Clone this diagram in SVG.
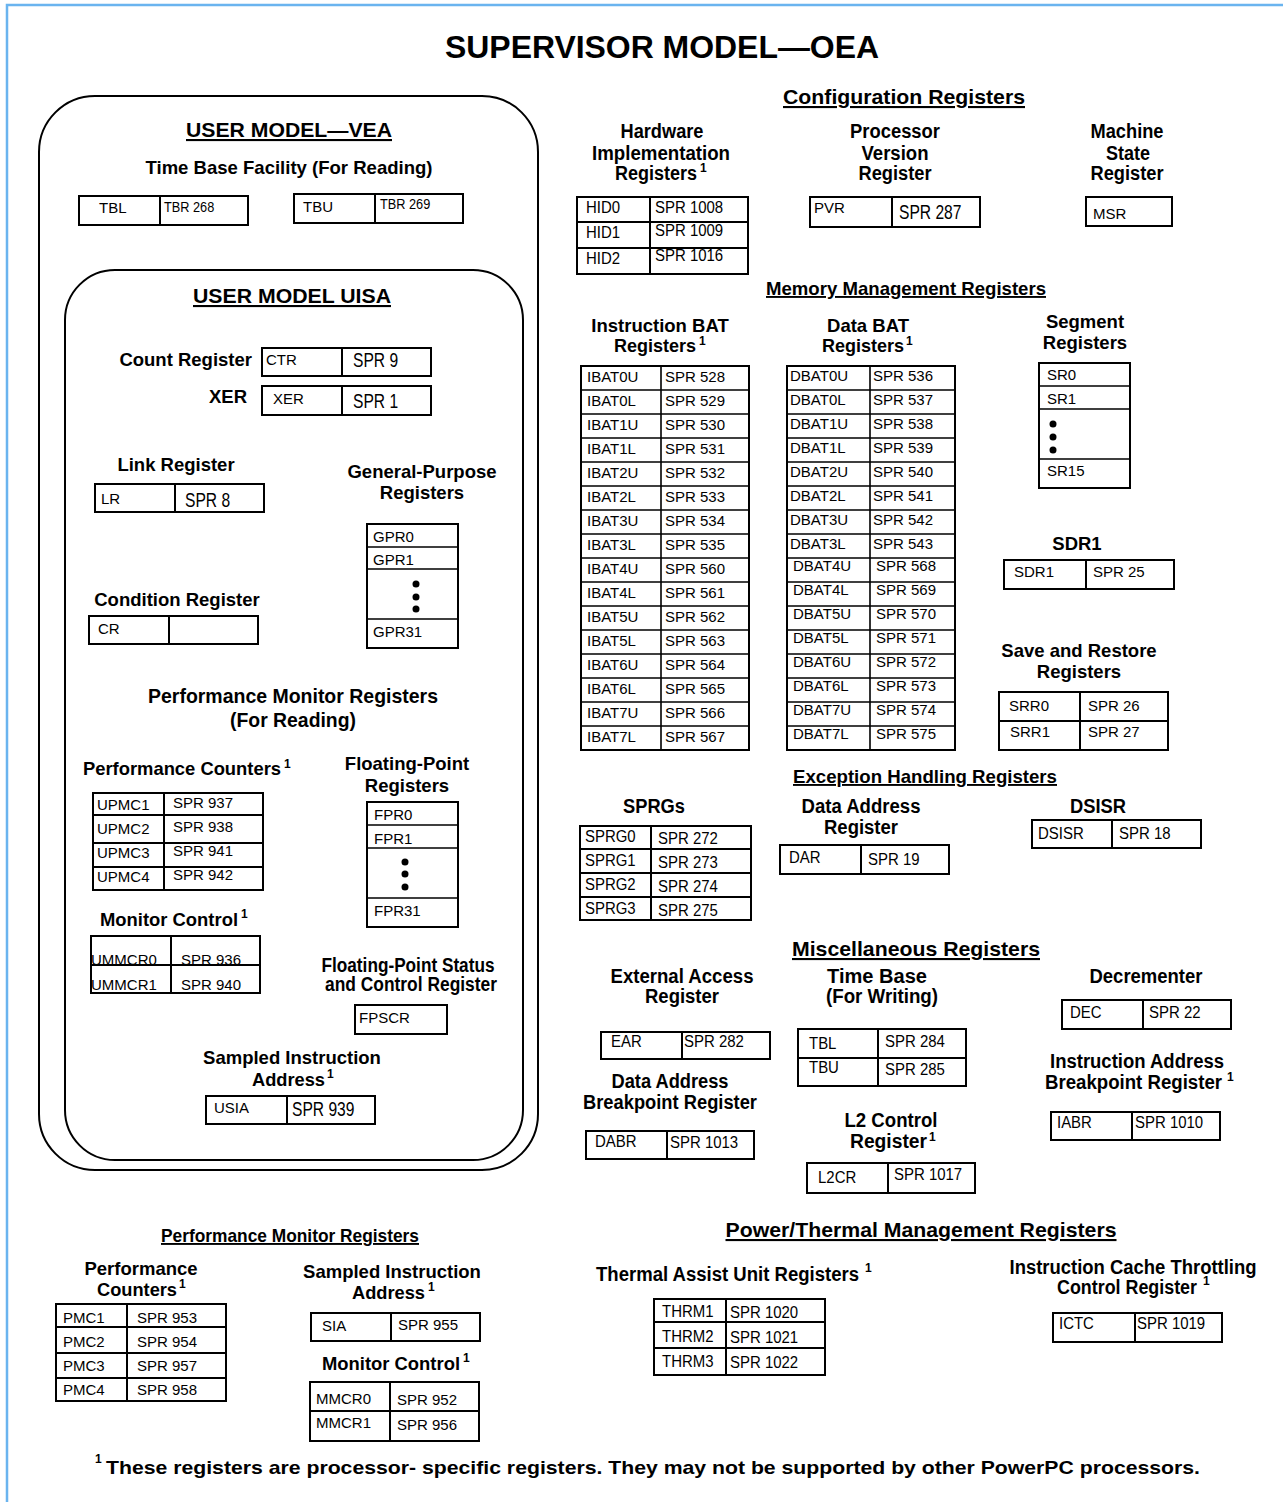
<svg xmlns="http://www.w3.org/2000/svg" width="1283" height="1502" viewBox="0 0 1283 1502">
<style>
text{font-family:"Liberation Sans",Arial,sans-serif;fill:#000}
.b{font-weight:bold}
.lb{font-weight:bold;font-size:18.5px;text-anchor:middle}
.nl{font-weight:bold;font-size:20px;text-anchor:middle}
.hd{font-weight:bold;font-size:21px;text-anchor:middle;text-decoration:underline}
.sup{font-weight:bold;font-size:12px}
.r{font-size:15px}
.rn{font-size:17px}
.big{font-size:20px}
.bx{fill:none;stroke:#000;stroke-width:2}
.ln{fill:none;stroke:#000;stroke-width:2}
.rl{fill:none;stroke:#000;stroke-width:1.6}
</style>
<rect width="1283" height="1502" fill="#fff"/>
<path d="M7 1502V5H1283" fill="none" stroke="#6ab4ef" stroke-width="2.5"/>
<text x="662" y="58" class="b" font-size="31" text-anchor="middle" textLength="434" lengthAdjust="spacingAndGlyphs">SUPERVISOR MODEL—OEA</text>

<g id="user-model-vea">
<rect x="39" y="96" width="499" height="1074" rx="56" class="bx"/>
<text x="289" y="137" class="b" font-size="21" text-anchor="middle" text-decoration="underline" textLength="206" lengthAdjust="spacingAndGlyphs">USER MODEL—VEA</text>
<text x="289" y="174" class="lb" textLength="287" lengthAdjust="spacingAndGlyphs">Time Base Facility (For Reading)</text>
</g>
<g id="tbl-read">
<rect x="79" y="196" width="169" height="29" class="bx"/><path d="M160 196V225" class="ln"/>
<text x="99" y="213" class="r" font-size="16">TBL</text><text transform="translate(164,212) scale(.85,1)" font-size="15">TBR 268</text>
</g>
<g id="tbu-read">
<rect x="294" y="194" width="169" height="29" class="bx"/><path d="M375 194V223" class="ln"/>
<text x="303" y="212" class="r" font-size="16">TBU</text><text transform="translate(380,209) scale(.85,1)" font-size="15">TBR 269</text>
</g>

<g id="user-model-uisa">
<rect x="65" y="270" width="458" height="890" rx="50" class="bx"/>
<text x="292" y="303" class="b" font-size="21" text-anchor="middle" text-decoration="underline" textLength="198" lengthAdjust="spacingAndGlyphs">USER MODEL UISA</text>
</g>
<g id="ctr">
<text x="252" y="366" class="b" font-size="18.5" text-anchor="end">Count Register</text>
<rect x="262" y="348" width="169" height="28" class="bx"/><path d="M342 348V376" class="ln"/>
<text x="266" y="365" class="r">CTR</text><text transform="translate(353,367) scale(.78,1)" class="big">SPR 9</text>
</g>
<g id="xer">
<text x="247" y="403" class="b" font-size="18.5" text-anchor="end">XER</text>
<rect x="262" y="386" width="169" height="29" class="bx"/><path d="M342 386V415" class="ln"/>
<text x="273" y="404" class="r">XER</text><text transform="translate(353,408) scale(.78,1)" class="big">SPR 1</text>
</g>
<g id="lr">
<text x="176" y="471" class="lb">Link Register</text>
<rect x="95" y="484" width="169" height="28" class="bx"/><path d="M175 484V512" class="ln"/>
<text x="101" y="504" class="r">LR</text><text transform="translate(185,507) scale(.78,1)" class="big">SPR 8</text>
</g>
<g id="gpr">
<text x="422" y="478" class="lb">General-Purpose</text>
<text x="422" y="499" class="lb">Registers</text>
<rect x="367" y="524" width="91" height="124" class="bx"/>
<path d="M367 547H458M367 569H458M367 619H458" class="rl"/>
<text x="373" y="542" class="r">GPR0</text><text x="373" y="565" class="r">GPR1</text>
<circle cx="416" cy="584" r="3.5"/><circle cx="416" cy="597" r="3.5"/><circle cx="416" cy="609" r="3.5"/>
<text x="373" y="637" class="r">GPR31</text>
</g>
<g id="cr">
<text x="177" y="606" class="lb">Condition Register</text>
<rect x="89" y="616" width="169" height="28" class="bx"/><path d="M169 616V644" class="ln"/>
<text x="98" y="634" class="r">CR</text>
</g>
<g id="pm-read">
<text x="293" y="703" class="hd" style="text-decoration:none" textLength="290" lengthAdjust="spacingAndGlyphs">Performance Monitor Registers</text>
<text x="293" y="727" class="hd" style="text-decoration:none" textLength="126" lengthAdjust="spacingAndGlyphs">(For Reading)</text>
</g>
<g id="upmc">
<text x="83" y="775" class="b" font-size="18.5" textLength="198" lengthAdjust="spacingAndGlyphs">Performance Counters</text><text x="284" y="768" class="sup">1</text>
<rect x="93" y="793" width="170" height="97" class="bx"/>
<path d="M93 815H263M93 843H263M93 867H263M164 793V890" class="ln"/>
<text x="97" y="810" class="r">UPMC1</text><text x="173" y="808" class="r">SPR 937</text>
<text x="97" y="834" class="r">UPMC2</text><text x="173" y="832" class="r">SPR 938</text>
<text x="97" y="858" class="r">UPMC3</text><text x="173" y="856" class="r">SPR 941</text>
<text x="97" y="882" class="r">UPMC4</text><text x="173" y="880" class="r">SPR 942</text>
</g>
<g id="ummcr">
<text x="100" y="926" class="b" font-size="18.5" textLength="138" lengthAdjust="spacingAndGlyphs">Monitor Control</text><text x="241" y="918" class="sup">1</text>
<rect x="91" y="936" width="169" height="57" class="bx"/>
<path d="M91 965H260M171 936V993" class="ln"/>
<text x="91" y="965" class="r">UMMCR0</text><text x="181" y="965" class="r">SPR 936</text>
<text x="91" y="990" class="r">UMMCR1</text><text x="181" y="990" class="r">SPR 940</text>
</g>
<g id="fpr">
<text x="407" y="770" class="lb">Floating-Point</text>
<text x="407" y="792" class="lb">Registers</text>
<rect x="367" y="802" width="91" height="125" class="bx"/>
<path d="M367 825H458M367 848H458M367 898H458" class="rl"/>
<text x="374" y="820" class="r">FPR0</text><text x="374" y="844" class="r">FPR1</text>
<circle cx="405" cy="862" r="3.5"/><circle cx="405" cy="874" r="3.5"/><circle cx="405" cy="887" r="3.5"/>
<text x="374" y="916" class="r">FPR31</text>
</g>
<g id="fpscr">
<text x="408" y="972" class="nl" textLength="173" lengthAdjust="spacingAndGlyphs">Floating-Point Status</text>
<text x="411" y="991" class="nl" textLength="172" lengthAdjust="spacingAndGlyphs">and Control Register</text>
<rect x="355" y="1005" width="92" height="29" class="bx"/>
<text x="359" y="1023" class="r">FPSCR</text>
</g>
<g id="usia">
<text x="292" y="1064" class="lb">Sampled Instruction</text>
<text x="252" y="1086" class="b" font-size="18.5" textLength="73" lengthAdjust="spacingAndGlyphs">Address</text><text x="327" y="1078" class="sup">1</text>
<rect x="206" y="1096" width="169" height="28" class="bx"/><path d="M287 1096V1124" class="ln"/>
<text x="214" y="1113" class="r">USIA</text><text transform="translate(292,1116) scale(.78,1)" class="big">SPR 939</text>
</g>

<g id="config-heading">
<text x="904" y="104" class="hd" textLength="242" lengthAdjust="spacingAndGlyphs">Configuration Registers</text>
</g>
<g id="hid">
<text x="662" y="138" class="nl" textLength="83" lengthAdjust="spacingAndGlyphs">Hardware</text>
<text x="661" y="160" class="nl" textLength="138" lengthAdjust="spacingAndGlyphs">Implementation</text>
<text x="615" y="180" class="nl" style="text-anchor:start" textLength="82" lengthAdjust="spacingAndGlyphs">Registers</text><text x="700" y="172" class="sup">1</text>
<rect x="577" y="197" width="171" height="77" class="bx"/>
<path d="M577 222H748M577 248H748M650 197V274" class="ln"/>
<text transform="translate(586,213) scale(.88,1)" class="rn">HID0</text><text transform="translate(655,213) scale(.88,1)" class="rn">SPR 1008</text>
<text transform="translate(586,238) scale(.88,1)" class="rn">HID1</text><text transform="translate(655,236) scale(.88,1)" class="rn">SPR 1009</text>
<text transform="translate(586,264) scale(.88,1)" class="rn">HID2</text><text transform="translate(655,261) scale(.88,1)" class="rn">SPR 1016</text>
</g>
<g id="pvr">
<text x="895" y="138" class="nl" textLength="90" lengthAdjust="spacingAndGlyphs">Processor</text>
<text x="895" y="160" class="nl" textLength="67" lengthAdjust="spacingAndGlyphs">Version</text>
<text x="895" y="180" class="nl" textLength="73" lengthAdjust="spacingAndGlyphs">Register</text>
<rect x="810" y="197" width="170" height="30" class="bx"/><path d="M892 197V227" class="ln"/>
<text x="814" y="213" class="r" font-size="14">PVR</text><text transform="translate(899,219) scale(.78,1)" class="big" font-size="21">SPR 287</text>
</g>
<g id="msr">
<text x="1127" y="138" class="nl" textLength="73" lengthAdjust="spacingAndGlyphs">Machine</text>
<text x="1128" y="160" class="nl" textLength="44" lengthAdjust="spacingAndGlyphs">State</text>
<text x="1127" y="180" class="nl" textLength="73" lengthAdjust="spacingAndGlyphs">Register</text>
<rect x="1086" y="197" width="86" height="29" class="bx"/>
<text x="1093" y="219" class="r">MSR</text>
</g>

<g id="mm-heading">
<text x="906" y="295" class="hd" style="font-size:19px" textLength="280" lengthAdjust="spacingAndGlyphs">Memory Management Registers</text>
</g>
<g id="ibat">
<text x="660" y="332" class="lb">Instruction BAT</text>
<text x="614" y="352" class="b" font-size="18.5" textLength="82" lengthAdjust="spacingAndGlyphs">Registers</text><text x="699" y="345" class="sup">1</text>
<rect x="581" y="366" width="168" height="384" class="bx"/>
<path d="M661 366V750M581 390H749M581 414H749M581 438H749M581 462H749M581 486H749M581 510H749M581 534H749M581 558H749M581 582H749M581 606H749M581 630H749M581 654H749M581 678H749M581 702H749M581 726H749" class="rl"/>
<g class="r">
<text x="587" y="382">IBAT0U</text><text x="665" y="382">SPR 528</text>
<text x="587" y="406">IBAT0L</text><text x="665" y="406">SPR 529</text>
<text x="587" y="430">IBAT1U</text><text x="665" y="430">SPR 530</text>
<text x="587" y="454">IBAT1L</text><text x="665" y="454">SPR 531</text>
<text x="587" y="478">IBAT2U</text><text x="665" y="478">SPR 532</text>
<text x="587" y="502">IBAT2L</text><text x="665" y="502">SPR 533</text>
<text x="587" y="526">IBAT3U</text><text x="665" y="526">SPR 534</text>
<text x="587" y="550">IBAT3L</text><text x="665" y="550">SPR 535</text>
<text x="587" y="574">IBAT4U</text><text x="665" y="574">SPR 560</text>
<text x="587" y="598">IBAT4L</text><text x="665" y="598">SPR 561</text>
<text x="587" y="622">IBAT5U</text><text x="665" y="622">SPR 562</text>
<text x="587" y="646">IBAT5L</text><text x="665" y="646">SPR 563</text>
<text x="587" y="670">IBAT6U</text><text x="665" y="670">SPR 564</text>
<text x="587" y="694">IBAT6L</text><text x="665" y="694">SPR 565</text>
<text x="587" y="718">IBAT7U</text><text x="665" y="718">SPR 566</text>
<text x="587" y="742">IBAT7L</text><text x="665" y="742">SPR 567</text>
</g>
</g>
<g id="dbat">
<text x="868" y="332" class="lb">Data BAT</text>
<text x="822" y="352" class="b" font-size="18.5" textLength="82" lengthAdjust="spacingAndGlyphs">Registers</text><text x="906" y="345" class="sup">1</text>
<rect x="787" y="366" width="168" height="384" class="bx"/>
<path d="M870 366V750M787 390H955M787 414H955M787 438H955M787 462H955M787 486H955M787 510H955M787 534H955M787 558H955M787 582H955M787 606H955M787 630H955M787 654H955M787 678H955M787 702H955M787 726H955" class="rl"/>
<g class="r">
<text x="790" y="381">DBAT0U</text><text x="873" y="381">SPR 536</text>
<text x="790" y="405">DBAT0L</text><text x="873" y="405">SPR 537</text>
<text x="790" y="429">DBAT1U</text><text x="873" y="429">SPR 538</text>
<text x="790" y="453">DBAT1L</text><text x="873" y="453">SPR 539</text>
<text x="790" y="477">DBAT2U</text><text x="873" y="477">SPR 540</text>
<text x="790" y="501">DBAT2L</text><text x="873" y="501">SPR 541</text>
<text x="790" y="525">DBAT3U</text><text x="873" y="525">SPR 542</text>
<text x="790" y="549">DBAT3L</text><text x="873" y="549">SPR 543</text>
<text x="793" y="571">DBAT4U</text><text x="876" y="571">SPR 568</text>
<text x="793" y="595">DBAT4L</text><text x="876" y="595">SPR 569</text>
<text x="793" y="619">DBAT5U</text><text x="876" y="619">SPR 570</text>
<text x="793" y="643">DBAT5L</text><text x="876" y="643">SPR 571</text>
<text x="793" y="667">DBAT6U</text><text x="876" y="667">SPR 572</text>
<text x="793" y="691">DBAT6L</text><text x="876" y="691">SPR 573</text>
<text x="793" y="715">DBAT7U</text><text x="876" y="715">SPR 574</text>
<text x="793" y="739">DBAT7L</text><text x="876" y="739">SPR 575</text>
</g>
</g>
<g id="sr">
<text x="1085" y="328" class="lb">Segment</text>
<text x="1085" y="349" class="lb">Registers</text>
<rect x="1039" y="363" width="91" height="125" class="bx"/>
<path d="M1039 386H1130M1039 409H1130M1039 459H1130" class="rl"/>
<text x="1047" y="380" class="r">SR0</text><text x="1047" y="404" class="r">SR1</text>
<circle cx="1053" cy="424" r="3.5"/><circle cx="1053" cy="437" r="3.5"/><circle cx="1053" cy="450" r="3.5"/>
<text x="1047" y="476" class="r">SR15</text>
</g>
<g id="sdr1">
<text x="1077" y="550" class="lb">SDR1</text>
<rect x="1004" y="560" width="170" height="29" class="bx"/><path d="M1086 560V589" class="ln"/>
<text x="1014" y="577" class="r">SDR1</text><text x="1093" y="577" class="r">SPR 25</text>
</g>
<g id="srr">
<text x="1079" y="657" class="lb">Save and Restore</text>
<text x="1079" y="678" class="lb">Registers</text>
<rect x="999" y="692" width="169" height="58" class="bx"/>
<path d="M999 721H1168M1080 692V750" class="ln"/>
<text x="1009" y="711" class="r">SRR0</text><text x="1088" y="711" class="r">SPR 26</text>
<text x="1010" y="737" class="r">SRR1</text><text x="1088" y="737" class="r">SPR 27</text>
</g>

<g id="exc-heading">
<text x="925" y="783" class="hd" style="font-size:19px" textLength="264" lengthAdjust="spacingAndGlyphs">Exception Handling Registers</text>
</g>
<g id="sprg">
<text x="654" y="813" class="nl" textLength="62" lengthAdjust="spacingAndGlyphs">SPRGs</text>
<rect x="580" y="826" width="171" height="94" class="bx"/>
<path d="M580 849H751M580 873H751M580 897H751M651 826V920" class="ln"/>
<text transform="translate(585,842) scale(.88,1)" class="rn">SPRG0</text><text transform="translate(658,844) scale(.88,1)" class="rn">SPR 272</text>
<text transform="translate(585,866) scale(.88,1)" class="rn">SPRG1</text><text transform="translate(658,868) scale(.88,1)" class="rn">SPR 273</text>
<text transform="translate(585,890) scale(.88,1)" class="rn">SPRG2</text><text transform="translate(658,892) scale(.88,1)" class="rn">SPR 274</text>
<text transform="translate(585,914) scale(.88,1)" class="rn">SPRG3</text><text transform="translate(658,916) scale(.88,1)" class="rn">SPR 275</text>
</g>
<g id="dar">
<text x="861" y="813" class="nl" textLength="119" lengthAdjust="spacingAndGlyphs">Data Address</text>
<text x="861" y="834" class="nl" textLength="74" lengthAdjust="spacingAndGlyphs">Register</text>
<rect x="780" y="845" width="169" height="29" class="bx"/><path d="M861 845V874" class="ln"/>
<text transform="translate(789,863) scale(.88,1)" class="rn">DAR</text><text transform="translate(868,865) scale(.88,1)" class="rn">SPR 19</text>
</g>
<g id="dsisr">
<text x="1098" y="813" class="nl" textLength="56" lengthAdjust="spacingAndGlyphs">DSISR</text>
<rect x="1032" y="820" width="169" height="28" class="bx"/><path d="M1112 820V848" class="ln"/>
<text transform="translate(1038,839) scale(.88,1)" class="rn">DSISR</text><text transform="translate(1119,839) scale(.88,1)" class="rn">SPR 18</text>
</g>

<g id="misc-heading">
<text x="916" y="956" class="hd" textLength="248" lengthAdjust="spacingAndGlyphs">Miscellaneous Registers</text>
</g>
<g id="ear">
<text x="682" y="983" class="nl" textLength="143" lengthAdjust="spacingAndGlyphs">External Access</text>
<text x="682" y="1003" class="nl" textLength="74" lengthAdjust="spacingAndGlyphs">Register</text>
<rect x="601" y="1032" width="169" height="27" class="bx"/><path d="M682 1032V1059" class="ln"/>
<text transform="translate(611,1047) scale(.88,1)" class="rn">EAR</text><text transform="translate(684,1047) scale(.88,1)" class="rn">SPR 282</text>
</g>
<g id="dabr">
<text x="670" y="1088" class="nl" textLength="117" lengthAdjust="spacingAndGlyphs">Data Address</text>
<text x="670" y="1109" class="nl" textLength="174" lengthAdjust="spacingAndGlyphs">Breakpoint Register</text>
<rect x="586" y="1131" width="168" height="28" class="bx"/><path d="M667 1131V1159" class="ln"/>
<text transform="translate(595,1147) scale(.88,1)" class="rn">DABR</text><text transform="translate(670,1148) scale(.88,1)" class="rn">SPR 1013</text>
</g>
<g id="tb-write">
<text x="877" y="983" class="nl" textLength="100" lengthAdjust="spacingAndGlyphs">Time Base</text>
<text x="882" y="1003" class="nl" textLength="112" lengthAdjust="spacingAndGlyphs">(For Writing)</text>
<rect x="798" y="1029" width="168" height="57" class="bx"/>
<path d="M798 1058H966M878 1029V1086" class="ln"/>
<text transform="translate(809,1049) scale(.88,1)" class="rn">TBL</text><text transform="translate(885,1047) scale(.88,1)" class="rn">SPR 284</text>
<text transform="translate(809,1073) scale(.88,1)" class="rn">TBU</text><text transform="translate(885,1075) scale(.88,1)" class="rn">SPR 285</text>
</g>
<g id="l2cr">
<text x="891" y="1127" class="nl" textLength="93" lengthAdjust="spacingAndGlyphs">L2 Control</text>
<text x="850" y="1148" class="nl" style="text-anchor:start" textLength="77" lengthAdjust="spacingAndGlyphs">Register</text><text x="929" y="1141" class="sup">1</text>
<rect x="807" y="1163" width="168" height="30" class="bx"/><path d="M888 1163V1193" class="ln"/>
<text transform="translate(818,1183) scale(.88,1)" class="rn">L2CR</text><text transform="translate(894,1180) scale(.88,1)" class="rn">SPR 1017</text>
</g>
<g id="dec">
<text x="1146" y="983" class="nl" textLength="113" lengthAdjust="spacingAndGlyphs">Decrementer</text>
<rect x="1062" y="1000" width="169" height="29" class="bx"/><path d="M1143 1000V1029" class="ln"/>
<text transform="translate(1070,1018) scale(.88,1)" class="rn">DEC</text><text transform="translate(1149,1018) scale(.88,1)" class="rn">SPR 22</text>
</g>
<g id="iabr">
<text x="1137" y="1068" class="nl" textLength="174" lengthAdjust="spacingAndGlyphs">Instruction Address</text>
<text x="1045" y="1089" class="nl" style="text-anchor:start" textLength="177" lengthAdjust="spacingAndGlyphs">Breakpoint Register</text><text x="1227" y="1081" class="sup">1</text>
<rect x="1051" y="1112" width="169" height="28" class="bx"/><path d="M1132 1112V1140" class="ln"/>
<text transform="translate(1057,1128) scale(.88,1)" class="rn">IABR</text><text transform="translate(1135,1128) scale(.88,1)" class="rn">SPR 1010</text>
</g>

<g id="pm-heading">
<text x="290" y="1242" class="hd" style="font-size:19px" textLength="258" lengthAdjust="spacingAndGlyphs">Performance Monitor Registers</text>
</g>
<g id="pmc">
<text x="141" y="1275" class="lb">Performance</text>
<text x="97" y="1296" class="b" font-size="18.5" textLength="80" lengthAdjust="spacingAndGlyphs">Counters</text><text x="179" y="1288" class="sup">1</text>
<rect x="56" y="1304" width="170" height="97" class="bx"/>
<path d="M56 1327H226M56 1353H226M56 1378H226M127 1304V1401" class="ln"/>
<text x="63" y="1323" class="r">PMC1</text><text x="137" y="1323" class="r">SPR 953</text>
<text x="63" y="1347" class="r">PMC2</text><text x="137" y="1347" class="r">SPR 954</text>
<text x="63" y="1371" class="r">PMC3</text><text x="137" y="1371" class="r">SPR 957</text>
<text x="63" y="1395" class="r">PMC4</text><text x="137" y="1395" class="r">SPR 958</text>
</g>
<g id="sia">
<text x="392" y="1278" class="lb">Sampled Instruction</text>
<text x="352" y="1299" class="b" font-size="18.5" textLength="73" lengthAdjust="spacingAndGlyphs">Address</text><text x="428" y="1291" class="sup">1</text>
<rect x="311" y="1313" width="169" height="28" class="bx"/><path d="M391 1313V1341" class="ln"/>
<text x="322" y="1331" class="r">SIA</text><text x="398" y="1330" class="r">SPR 955</text>
</g>
<g id="mmcr">
<text x="322" y="1370" class="b" font-size="18.5" textLength="138" lengthAdjust="spacingAndGlyphs">Monitor Control</text><text x="463" y="1362" class="sup">1</text>
<rect x="310" y="1382" width="169" height="59" class="bx"/>
<path d="M310 1411H479M390 1382V1441" class="ln"/>
<text x="316" y="1404" class="r">MMCR0</text><text x="397" y="1405" class="r">SPR 952</text>
<text x="316" y="1428" class="r">MMCR1</text><text x="397" y="1430" class="r">SPR 956</text>
</g>

<g id="pt-heading">
<text x="921" y="1237" class="hd" textLength="391" lengthAdjust="spacingAndGlyphs">Power/Thermal Management Registers</text>
</g>
<g id="thrm">
<text x="596" y="1281" class="nl" style="text-anchor:start" textLength="263" lengthAdjust="spacingAndGlyphs">Thermal Assist Unit Registers</text><text x="865" y="1272" class="sup">1</text>
<rect x="654" y="1299" width="171" height="76" class="bx"/>
<path d="M654 1322H825M654 1348H825M726 1299V1375" class="ln"/>
<text transform="translate(662,1317) scale(.88,1)" class="rn">THRM1</text><text transform="translate(730,1318) scale(.88,1)" class="rn">SPR 1020</text>
<text transform="translate(662,1342) scale(.88,1)" class="rn">THRM2</text><text transform="translate(730,1343) scale(.88,1)" class="rn">SPR 1021</text>
<text transform="translate(662,1367) scale(.88,1)" class="rn">THRM3</text><text transform="translate(730,1368) scale(.88,1)" class="rn">SPR 1022</text>
</g>
<g id="ictc">
<text x="1133" y="1274" class="nl" textLength="247" lengthAdjust="spacingAndGlyphs">Instruction Cache Throttling</text>
<text x="1057" y="1294" class="nl" style="text-anchor:start" textLength="140" lengthAdjust="spacingAndGlyphs">Control Register</text><text x="1203" y="1285" class="sup">1</text>
<rect x="1053" y="1313" width="169" height="29" class="bx"/><path d="M1135 1313V1342" class="ln"/>
<text transform="translate(1059,1329) scale(.88,1)" class="rn">ICTC</text><text transform="translate(1137,1329) scale(.88,1)" class="rn">SPR 1019</text>
</g>

<g id="footnote">
<text x="95" y="1463" class="sup" font-size="13">1</text>
<text x="106" y="1474" class="b" font-size="18.5" textLength="1094" lengthAdjust="spacingAndGlyphs">These registers are processor- specific registers. They may not be supported by other PowerPC processors.</text>
</g>
</svg>
